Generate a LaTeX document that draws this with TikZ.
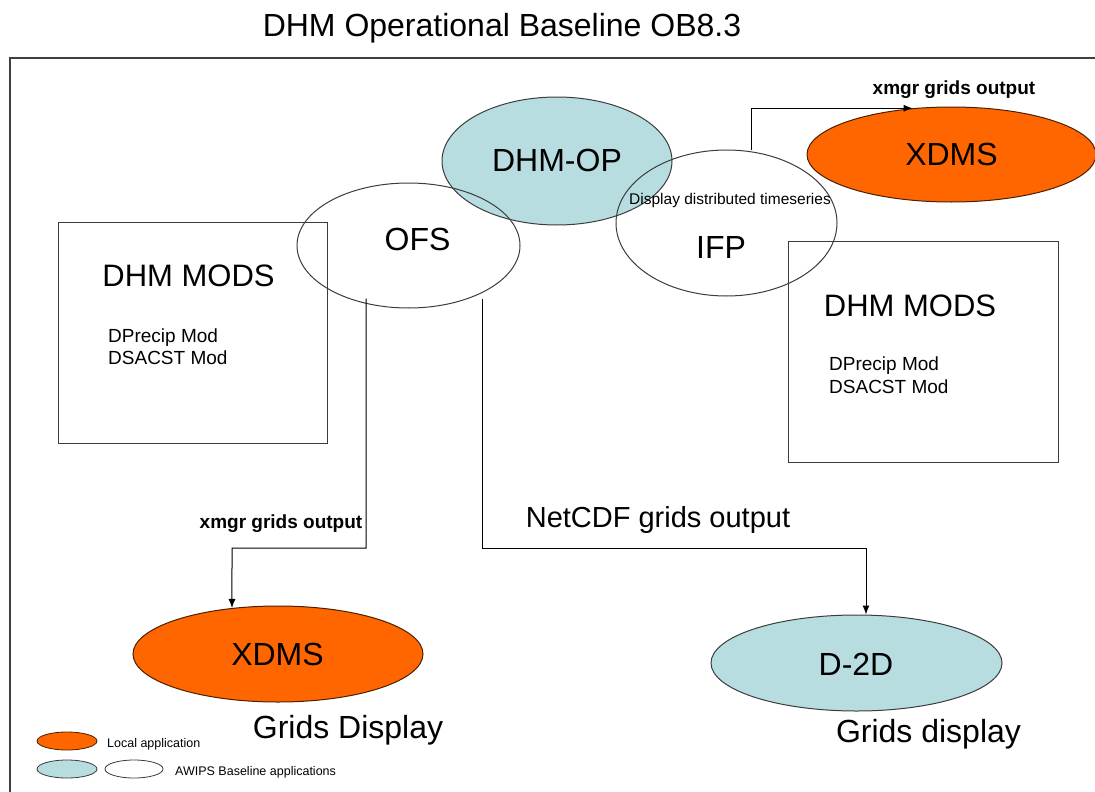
\documentclass[tikz,border=0pt]{standalone}
\usepackage{fontspec}
\setmainfont{Liberation Sans}
\usetikzlibrary{shapes.geometric,arrows.meta}
\definecolor{appblue}{RGB}{183,221,224}
\definecolor{apporange}{RGB}{255,102,0}
\definecolor{edgegray}{RGB}{60,60,60}
\newcommand{\fsz}[1]{\fontsize{#1pt}{#1pt}\selectfont}
\tikzset{
  ell/.style={ellipse, draw=edgegray, line width=1pt, inner sep=0pt},
  bluell/.style={ell, fill=appblue},
  orell/.style={ell, draw=black!70!apporange, fill=apporange},
  modbox/.style={draw=edgegray, line width=1pt},
  txt/.style={inner sep=0pt, anchor=base},
  big/.style={txt, font=\fsz{32}},
  lbl/.style={txt, font=\fsz{19}\bfseries},
  mods/.style={txt, anchor=base west, font=\fsz{19}, align=left},
  leg/.style={txt, anchor=base west, font=\fsz{12.5}},
  conn/.style={line width=1pt, -{Latex[length=9pt,width=7pt]}},
  plain/.style={line width=1pt}
}
\begin{document}
\begin{tikzpicture}[x=1pt,y=1pt]
\useasboundingbox (0,0) rectangle (1095,-792);
% frame
\draw[line width=1.5pt, draw=black!75] (10,-792) -- (10,-58) -- (1095,-58);
% title
\node[big] (title) at (502,-37) {DHM Operational Baseline OB8.3};
% boxes
\draw[modbox] (58,-222) rectangle (327,-443);
\node[txt, font=\fsz{31}] (modsL) at (188.5,-286) {DHM MODS};
\node[mods] (dpL) at (108,-342) {DPrecip Mod};
\node[mods] (dsL) at (108,-364) {DSACST Mod};
\draw[modbox] (788,-241) rectangle (1058,-462);
\node[txt, font=\fsz{31}] (modsR) at (910,-316) {DHM MODS};
\node[mods] (dpR) at (829,-370) {DPrecip Mod};
\node[mods] (dsR) at (829,-393) {DSACST Mod};
% ellipses
\node[bluell, minimum width=230pt, minimum height=128pt] (dhmop) at (557,-161) {};
\node[ell, minimum width=223pt, minimum height=125pt] (ofs) at (408.5,-245.5) {};
\node[ell, minimum width=221pt, minimum height=146pt] (ifp) at (726.5,-223) {};
\node[orell, minimum width=289pt, minimum height=95pt] (xdmsT) at (951.5,-154.5) {};
\node[orell, minimum width=290pt, minimum height=96pt] (xdmsB) at (278,-654) {};
\node[bluell, minimum width=291pt, minimum height=96pt] (d2d) at (856.5,-663) {};
% ellipse texts
\node[big] (tDHMOP) at (557,-171.5) {DHM-OP};
\node[big] (tOFS) at (417.5,-250.5) {OFS};
\node[big] (tIFP) at (721,-258) {IFP};
\node[txt, font=\fsz{15.5}] (tDisp) at (730,-204) {Display distributed timeseries};
\node[big] (tXT) at (951.5,-165) {XDMS};
\node[big] (tXB) at (277.5,-665) {XDMS};
\node[big] (tD2D) at (856,-675) {D-2D};
\node[big] (gdL) at (348,-738) {Grids Display};
\node[big] (gdR) at (928.5,-742) {Grids display};
% connectors
\coordinate (c1) at (751,-107);
\draw[conn] (ifp.north -| c1) |- (xdmsT.130);
\node[lbl] (lblT) at (954,-95) {xmgr grids output};
\coordinate (c2) at (232,-548);
\draw[conn] ([yshift=10pt]ofs.south -| 366,0) |- (c2) -- (xdmsB.135);
\node[lbl] (lblL) at (281,-528) {xmgr grids output};
\coordinate (c3) at (866,-548);
\draw[conn] ([yshift=10pt]ofs.south -| 482,0) |- (c3) -- (d2d.north -| c3);
\node[txt, font=\fsz{29}] (lblR) at (658,-527.5) {NetCDF grids output};
% legend
\node[orell, line width=0.8pt, minimum width=60pt, minimum height=18pt] (lg1) at (67,-741) {};
\node[leg] (lgt1) at (107,-747) {Local application};
\node[bluell, line width=0.8pt, minimum width=60pt, minimum height=18pt] (lg2) at (67,-769) {};
\node[ell, line width=0.8pt, minimum width=58pt, minimum height=18pt] (lg3) at (134,-769) {};
\node[leg] (lgt2) at (175,-775) {AWIPS Baseline applications};
\end{tikzpicture}
\end{document}
